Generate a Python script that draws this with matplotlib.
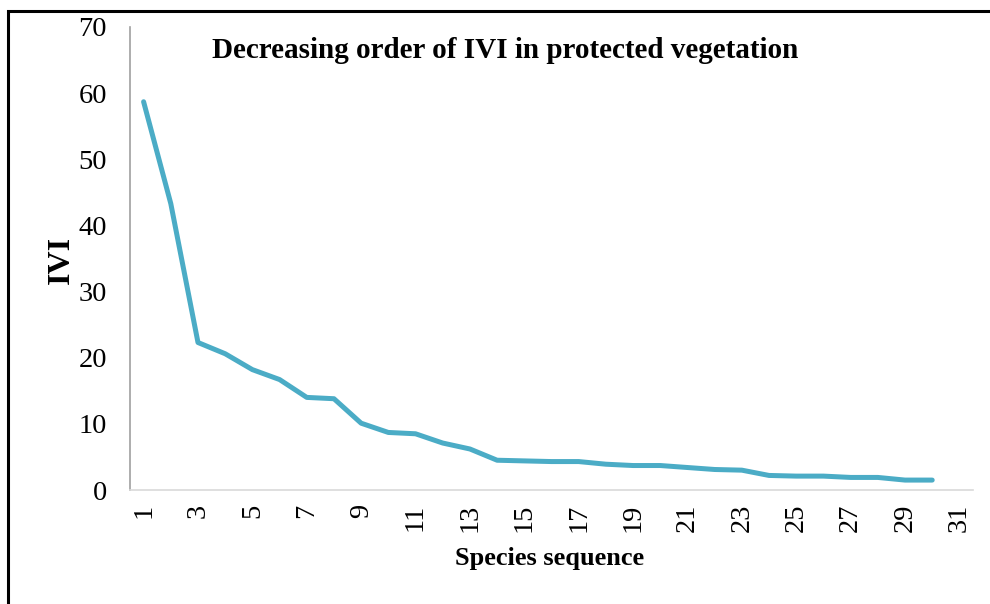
import matplotlib
matplotlib.use("Agg")
import matplotlib.pyplot as plt
from matplotlib.patches import Rectangle

species = list(range(1, 31))
ivi = [58.7, 43.3, 22.3, 20.6, 18.2, 16.7, 14.0, 13.8, 10.1, 8.7,
       8.5, 7.1, 6.2, 4.5, 4.4, 4.3, 4.3, 3.9, 3.7, 3.7,
       3.4, 3.1, 3.0, 2.2, 2.1, 2.1, 1.9, 1.9, 1.5, 1.5]
xtick_labels = list(range(1, 32, 2))
ytick_values = list(range(0, 71, 10))

plt.rcParams['font.family'] = ['Liberation Serif', 'DejaVu Serif']

W, H = 990, 604
fig = plt.figure(figsize=(W / 100, H / 100), dpi=100)
ax = fig.add_axes([130 / W, 1 - 490 / H, (973 - 130) / W, (490 - 27) / H])

ax.plot(species, ivi, color='#4BACC6', linewidth=3.6, solid_capstyle='round',
        solid_joinstyle='round')

ax.set_xlim(0.5, 31.5)
ax.set_ylim(0, 70)
ax.set_xticks(xtick_labels)
ax.set_xticklabels([str(v) for v in xtick_labels], rotation=90, fontsize=20.5)
ax.set_yticks(ytick_values)
ax.set_yticklabels([str(v) for v in ytick_values], fontsize=20.5)
ax.tick_params(axis='both', length=0)
ax.tick_params(axis='y', pad=16.5)
ax.tick_params(axis='x', pad=10)

for s in ['top', 'right']:
    ax.spines[s].set_visible(False)
ax.spines['left'].set_color('#A0A0A0')
ax.spines['left'].set_linewidth(1.2)
ax.spines['bottom'].set_color('#D9D9D9')
ax.spines['bottom'].set_linewidth(1.2)

fig.text(61 / W, 1 - 260 / H, 'IVI', rotation=90, fontsize=23, fontweight='bold',
         ha='center', va='center')
fig.text(550 / W, 1 - 559 / H, 'Species sequence', fontsize=19, fontweight='bold',
         ha='center', va='center')
fig.text(505 / W, 1 - 50 / H, 'Decreasing order of IVI in protected vegetation',
         fontsize=21, fontweight='bold', ha='center', va='center')

fig.patches.append(Rectangle((8 / W, -0.1), 1.2, (1 - 11 / H) + 0.1,
                             transform=fig.transFigure, fill=False,
                             edgecolor='black', linewidth=2.2))

fig.savefig('out.png', dpi=100)
